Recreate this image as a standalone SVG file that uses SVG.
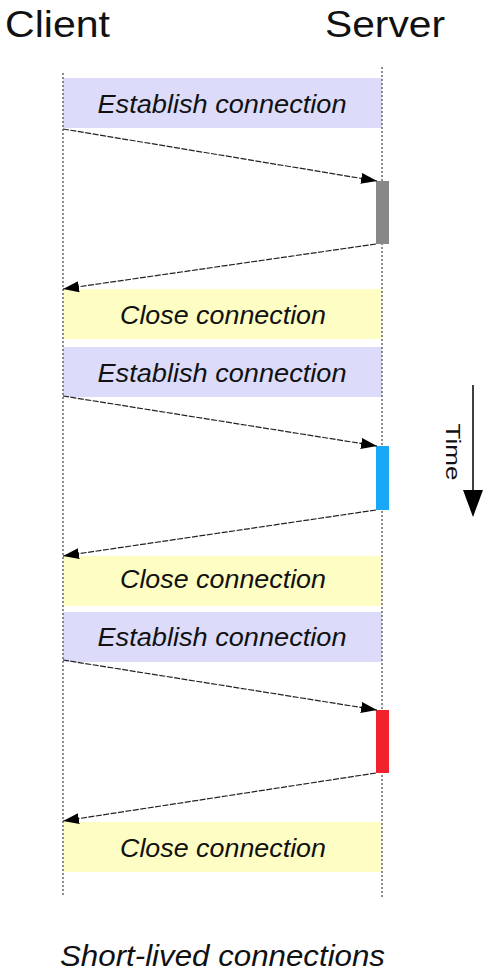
<svg xmlns="http://www.w3.org/2000/svg" width="486" height="977" viewBox="0 0 486 977">
<defs>
<marker id="ah" markerWidth="16" markerHeight="11" refX="16" refY="5.5" orient="auto" markerUnits="userSpaceOnUse"><path d="M0,0 L16,5.5 L0,11 Z" fill="#000"/></marker>
</defs>
<style>
.lbl{font-family:"Liberation Sans",Arial,sans-serif;font-style:italic;font-size:25px;fill:#111;text-anchor:middle}
.hdr{font-family:"Liberation Sans",Arial,sans-serif;font-size:37px;fill:#111}
.est{fill:#dcdcfa}
.cls{fill:#fefdc4}
.life{stroke:#444;stroke-width:1.2;stroke-dasharray:2,2;fill:none}
.msg{stroke:#222;stroke-width:1.2;stroke-dasharray:6,1.5;fill:none;marker-end:url(#ah)}
</style>
<rect width="486" height="977" fill="#fff"/>
<text class="hdr" x="5" y="37" textLength="105" lengthAdjust="spacingAndGlyphs">Client</text>
<text class="hdr" x="325" y="37" textLength="120" lengthAdjust="spacingAndGlyphs">Server</text>
<g id="est1"><rect class="est" x="63" y="78" width="319" height="50"/><text class="lbl" x="222" y="113" textLength="249" lengthAdjust="spacingAndGlyphs">Establish connection</text></g>
<g id="close1"><rect class="cls" x="63" y="289" width="319" height="50"/><text class="lbl" x="223" y="324" textLength="206" lengthAdjust="spacingAndGlyphs">Close connection</text></g>
<g id="est2"><rect class="est" x="63" y="347" width="319" height="50"/><text class="lbl" x="222" y="382" textLength="249" lengthAdjust="spacingAndGlyphs">Establish connection</text></g>
<g id="close2"><rect class="cls" x="63" y="556" width="319" height="50"/><text class="lbl" x="223" y="588" textLength="206" lengthAdjust="spacingAndGlyphs">Close connection</text></g>
<g id="est3"><rect class="est" x="63" y="612" width="319" height="50"/><text class="lbl" x="222" y="646" textLength="249" lengthAdjust="spacingAndGlyphs">Establish connection</text></g>
<g id="close3"><rect class="cls" x="63" y="822" width="319" height="50"/><text class="lbl" x="223" y="857" textLength="206" lengthAdjust="spacingAndGlyphs">Close connection</text></g>
<g id="lifelines"><line class="life" x1="63" y1="73" x2="63" y2="897"/><line class="life" x1="382" y1="67" x2="382" y2="897"/></g>
<g id="proc1"><rect x="376" y="181" width="13" height="63" fill="#888"/></g>
<g id="proc2"><rect x="376" y="446" width="13" height="64" fill="#19a8f8"/></g>
<g id="proc3"><rect x="376" y="710" width="13" height="63" fill="#f0222e"/></g>
<g id="connectors">
<line class="msg" x1="63" y1="129" x2="377" y2="181"/>
<line class="msg" x1="376" y1="244" x2="63" y2="289"/>
<line class="msg" x1="63" y1="396" x2="377" y2="446"/>
<line class="msg" x1="376" y1="510" x2="63" y2="556"/>
<line class="msg" x1="63" y1="660" x2="377" y2="710"/>
<line class="msg" x1="376" y1="773" x2="63" y2="821"/>
</g>
<g id="time">
<line x1="473" y1="385" x2="473" y2="495" stroke="#000" stroke-width="1.5"/>
<polygon points="463,490 483,490 473,517" fill="#000"/>
<text transform="translate(446,452) rotate(90)" x="0" y="0" text-anchor="middle" textLength="57" lengthAdjust="spacingAndGlyphs" style="font-family:'Liberation Sans',Arial,sans-serif;font-size:21px;fill:#111">Time</text>
</g>
<text x="60" y="966" textLength="325" lengthAdjust="spacingAndGlyphs" style="font-family:'Liberation Sans',Arial,sans-serif;font-style:italic;font-size:30px;fill:#111">Short-lived connections</text>
</svg>
